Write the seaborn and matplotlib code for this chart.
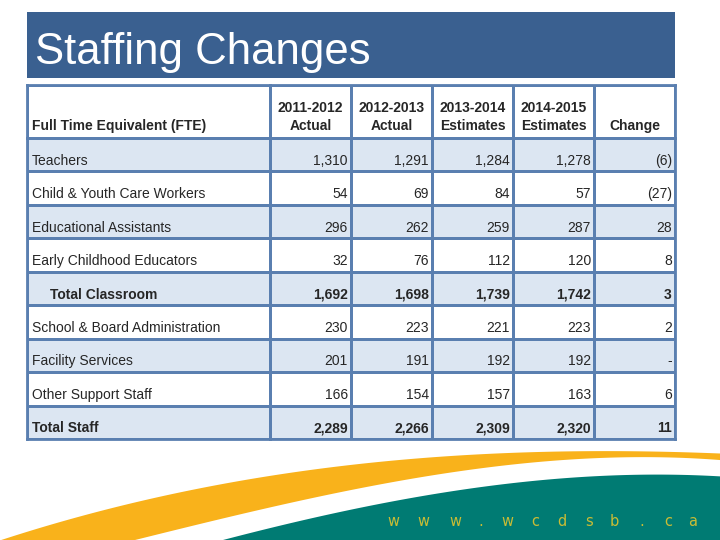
import numpy as np
import pandas as pd
import matplotlib
matplotlib.use("Agg")
import matplotlib.pyplot as plt
from matplotlib.colors import ListedColormap
from matplotlib.patches import Rectangle
import seaborn as sns

sns.set_theme(style="white")
plt.rcParams['font.family'] = ['Liberation Sans', 'DejaVu Sans']

# ---------------- data ----------------
title = "Staffing Changes"
row_header = "Full Time Equivalent (FTE)"
col_headers = ["2011-2012\nActual", "2012-2013\nActual", "2013-2014\nEstimates",
               "2014-2015\nEstimates", "Change"]
categories = ["Teachers", "Child & Youth Care Workers", "Educational Assistants",
              "Early Childhood Educators", "Total Classroom",
              "School & Board Administration", "Facility Services",
              "Other Support Staff", "Total Staff"]
fte_2011_12 = [1310, 54, 296, 32, 1692, 230, 201, 166, 2289]
fte_2012_13 = [1291, 69, 262, 76, 1698, 223, 191, 154, 2266]
fte_2013_14 = [1284, 84, 259, 112, 1739, 221, 192, 157, 2309]
fte_2014_15 = [1278, 57, 287, 120, 1742, 223, 192, 163, 2320]
change = [-6, -27, 28, 8, 3, 2, 0, 6, 11]
bold_rows = ["Total Classroom", "Total Staff"]
indented_rows = ["Total Classroom"]
website = "www.wcdsb.ca"

df = pd.DataFrame({"c1": fte_2011_12, "c2": fte_2012_13, "c3": fte_2013_14,
                   "c4": fte_2014_15, "c5": change}, index=categories)


def fmt(v):
    if v == 0:
        return "-"
    if v < 0:
        return "({:,})".format(-v)
    return "{:,}".format(v)


# ---------------- styling ----------------
BORDER = "#5A7FB0"
SHADE = "#DCE6F2"
TITLE_BG = "#3A6090"
ORANGE = "#F9B21B"
TEAL = "#007B73"
WEB = "#C9BC35"

W, H = 720, 540
fig = plt.figure(figsize=(7.2, 5.4), dpi=100)

bg = fig.add_axes([0, 0, 1, 1])
bg.set_xlim(0, W)
bg.set_ylim(H, 0)
bg.axis("off")

# title bar
bg.add_patch(Rectangle((27, 12), 648, 66, facecolor=TITLE_BG, edgecolor="none"))
bg.text(35, 64, title, color="white", fontsize=31.5, va="baseline", ha="left")


# bottom decoration (smooth swooshes)
def smooth_edge(px, py, xs, deg=3):
    coef = np.polyfit(px, py, deg)
    return np.polyval(coef, xs)


xs = np.linspace(0, W, 721)
orange_top = smooth_edge([0, 100, 200, 300, 360, 460, 560, 640, 720],
                         [540, 512, 488, 472, 463, 455, 452, 452, 453], xs)
orange_bot = smooth_edge([0, 147, 233, 300, 360, 460, 560, 660, 720],
                         [572, 540, 518, 499, 484, 471, 463, 459, 458], xs)
bg.fill_between(xs, orange_top, orange_bot, color=ORANGE, lw=0)
teal_top = smooth_edge([160, 233, 300, 360, 410, 460, 560, 660, 720],
                       [556, 540, 520, 507, 498, 490, 479, 475, 476], xs)
teal_top = np.where(xs < 160, 600, teal_top)
bg.fill_between(xs, teal_top, np.full_like(xs, H + 5), color=TEAL, lw=0)
web_x = [393, 423, 455, 481, 507, 535, 562, 589, 614, 642, 668, 693]
for ch, x in zip(website, web_x):
    bg.text(x, 521, ch, color=WEB, fontsize=10.5, ha="center", va="center",
            family=["DejaVu Sans"])


def fax(x0, y0, x1, y1):
    return fig.add_axes([x0 / W, 1 - y1 / H, (x1 - x0) / W, (y1 - y0) / H])


def style_heat(ax):
    for s in ax.spines.values():
        s.set_visible(True)
        s.set_color(BORDER)
        s.set_linewidth(2)
    ax.set_xlabel("")
    ax.set_ylabel("")


cmap = ListedColormap([SHADE, "white"])
LX0, LX1, NX1 = 27, 270, 675
HY0, HY1, BY1 = 85, 138, 439
FS = 10

# header
h_lab = fax(LX0, HY0, LX1, HY1)
sns.heatmap(pd.DataFrame([[1]]), ax=h_lab, cmap=cmap, vmin=0, vmax=1, cbar=False,
            linewidths=2, linecolor=BORDER, xticklabels=False, yticklabels=False)
style_heat(h_lab)
h_lab.text(0.02, 0.78, row_header, fontsize=FS, fontweight="bold", va="center", ha="left")

h_num = fax(LX1, HY0, NX1, HY1)
sns.heatmap(pd.DataFrame([[1] * len(col_headers)]), ax=h_num, cmap=cmap, vmin=0, vmax=1,
            cbar=False, linewidths=2, linecolor=BORDER, xticklabels=False, yticklabels=False)
style_heat(h_num)
for j, hdr in enumerate(col_headers):
    lines = hdr.split("\n")
    if len(lines) == 2:
        h_num.text(j + 0.5, 0.44, lines[0], fontsize=FS, fontweight="bold", ha="center", va="center")
        h_num.text(j + 0.5, 0.78, lines[1], fontsize=FS, fontweight="bold", ha="center", va="center")
    else:
        h_num.text(j + 0.5, 0.78, lines[0], fontsize=FS, fontweight="bold", ha="center", va="center")

# body
shade = np.array([[i % 2] for i in range(len(categories))])
b_lab = fax(LX0, HY1, LX1, BY1)
sns.heatmap(pd.DataFrame(shade, index=categories), ax=b_lab, cmap=cmap, vmin=0, vmax=1,
            cbar=False, linewidths=2, linecolor=BORDER, xticklabels=False, yticklabels=False)
style_heat(b_lab)
for i, lab in enumerate(categories):
    x = 0.095 if lab in indented_rows else 0.02
    b_lab.text(x, i + 0.68, lab, fontsize=FS, ha="left", va="center",
               fontweight="bold" if lab in bold_rows else "normal")

b_num = fax(LX1, HY1, NX1, BY1)
shade5 = np.repeat(shade, df.shape[1], axis=1)
sns.heatmap(pd.DataFrame(shade5, index=categories, columns=df.columns), ax=b_num, cmap=cmap,
            vmin=0, vmax=1, cbar=False, linewidths=2, linecolor=BORDER,
            xticklabels=False, yticklabels=False)
style_heat(b_num)
for i, lab in enumerate(categories):
    for j, col in enumerate(df.columns):
        b_num.text(j + 0.96, i + 0.68, fmt(df.loc[lab, col]), fontsize=FS, ha="right",
                   va="center", fontweight="bold" if lab in bold_rows else "normal")

fig.savefig("out.png", dpi=100)
